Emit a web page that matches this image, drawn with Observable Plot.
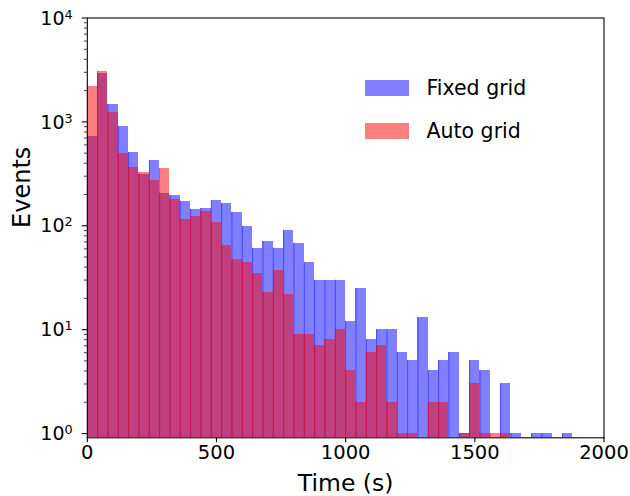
<!DOCTYPE html>
<html><head><meta charset="utf-8">
<script src="https://cdn.jsdelivr.net/npm/d3@7"></script>
<script src="https://cdn.jsdelivr.net/npm/@observablehq/plot@0.6"></script>
<style>
body{margin:0;background:#fff;font-family:"DejaVu Sans",sans-serif;}
#wrap{position:relative;width:630px;height:496px;}
.leg{position:absolute;left:365px;display:flex;align-items:center;font-size:20.5px;color:#000;transform:translateY(-50%);white-space:nowrap;}
.sw{width:44px;height:16px;margin-right:17.5px;}
</style></head><body><div id="wrap"></div>
<script>
// bin left edges (s), width 40 s
const binEdges = [0,40,80,120,160,200,240,280,320,360,400,440,480,520,560,600,640,680,720,760,800,840,880,920,960,1000,1040,1080,1120,1160,1200,1240,1280,1320,1360,1400,1440,1480,1520,1560,1600,1640,1680,1720,1760,1800,1840,1880];
const fixedGrid = [727,2936,1477,907,510,313,427,206,197,172,144,147,176,165,135,99,61,71,61,91,68,44,30,30,30,12,25,8,10,10,6,5,13,4,5,6,1,5,4,0,3,1,0,1,1,0,1];
const autoGrid  = [2203,3071,1237,499,366,327,274,357,180,116,124,138,108,65,47,44,35,23,37,22,9,9,7,8,10,4,2,6,7,2,1,1,0,2,2,0,1,3,1,1,1,0,0,0,0,0,0];
const seriesNames = ["Fixed grid","Auto grid"];
const seriesColors = ["#0000ff","#ff0000"];
const xTicks = [0,500,1000,1500,2000];
const yTicks = [1,10,100,1000,10000];
const yExponents = ["0","1","2","3","4"];
const yMinor = [1,10,100,1000].flatMap(d => [2,3,4,5,6,7,8,9].map(k => k*d));

const yMin = 0.91;
function toBins(vals){
  return vals.map((v,i)=>({x1:binEdges[i], x2:binEdges[i+1], y1:yMin, y2:v})).filter(d=>d.y2>0);
}
const fixedData = toBins(fixedGrid);
const autoData = toBins(autoGrid);
const fixedSeams = fixedData.filter(d=>d.x1>0);
const autoSeams = autoData.filter(d=>d.x1>0);
const yTickData = yTicks.map((v,i)=>({v, e:yExponents[i]}));

const chart = Plot.plot({
  width:630, height:496,
  marginLeft:86.8, marginRight:26.5, marginTop:17.5, marginBottom:58.7,
  x:{domain:[0,2000]},
  y:{type:"log", domain:[yMin,10000]},
  style:{fontFamily:"DejaVu Sans", background:"white", color:"black", overflow:"visible"},
  marks:[
    Plot.rect(fixedData, {x1:"x1", x2:"x2", y1:"y1", y2:"y2", fill:seriesColors[0], fillOpacity:0.5, shapeRendering:"crispEdges"}),
    Plot.ruleX(fixedSeams, {x:"x1", y1:"y1", y2:"y2", stroke:seriesColors[0], strokeOpacity:0.45, strokeWidth:1}),
    Plot.rect(autoData, {x1:"x1", x2:"x2", y1:"y1", y2:"y2", fill:seriesColors[1], fillOpacity:0.5, shapeRendering:"crispEdges"}),
    Plot.ruleX(autoSeams, {x:"x1", y1:"y1", y2:"y2", stroke:seriesColors[1], strokeOpacity:0.45, strokeWidth:1}),
    Plot.frame({stroke:"black", strokeWidth:1.1}),
    Plot.axisX({ticks:xTicks, tickSize:5, tickPadding:2, fontSize:19.5, tickFormat:d=>String(d), label:null, strokeWidth:1.1}),
    Plot.axisY({ticks:yTicks, tickSize:5, tickFormat:()=>"", label:null, strokeWidth:1.1}),
    Plot.axisY({ticks:yMinor, tickSize:2.8, tickFormat:()=>"", label:null, strokeWidth:0.8}),
    Plot.text(yTickData, {y:"v", frameAnchor:"left", text:()=>"10", textAnchor:"end", dx:-22.8, dy:0.6, fontSize:19, lineAnchor:"middle"}),
    Plot.text(yTickData, {y:"v", frameAnchor:"left", text:"e", textAnchor:"start", dx:-22.8, dy:-3.4, fontSize:12.8, lineAnchor:"middle"}),
    Plot.text(["Time (s)"], {frameAnchor:"bottom", text:d=>d, dy:45.5, fontSize:23.5, lineAnchor:"middle"}),
    Plot.text(["Events"], {frameAnchor:"left", text:d=>d, dx:-64.5, rotate:-90, fontSize:24, lineAnchor:"middle"})
  ]
});
const wrap = document.getElementById("wrap");
wrap.appendChild(chart);
const legY = [88,131];
seriesNames.forEach((name,i)=>{
  const item = document.createElement("div");
  item.className = "leg";
  item.style.top = legY[i] + "px";
  const sw = document.createElement("div");
  sw.className = "sw";
  sw.style.background = seriesColors[i];
  sw.style.opacity = 0.5;
  const t = document.createElement("span");
  t.textContent = name;
  item.appendChild(sw); item.appendChild(t);
  wrap.appendChild(item);
});
</script></body></html>
